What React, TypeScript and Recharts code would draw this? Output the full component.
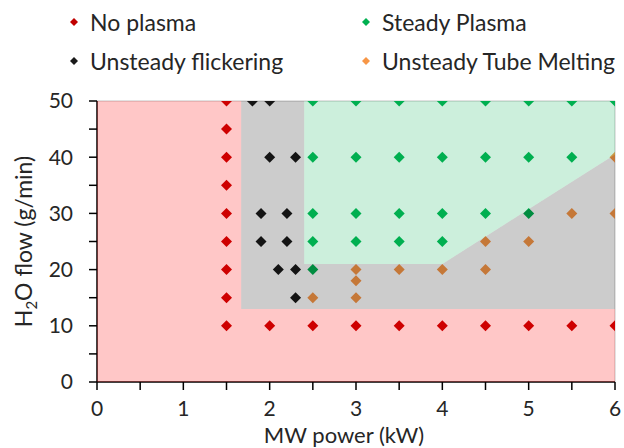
import React from "react";
import { ComposedChart, Scatter, Area, XAxis, YAxis, ReferenceLine, Label } from "recharts";

// measured states
const noPlasma = [
  { x: 1.5, y: 50 }, { x: 1.5, y: 45 }, { x: 1.5, y: 40 }, { x: 1.5, y: 35 }, { x: 1.5, y: 30 },
  { x: 1.5, y: 25 }, { x: 1.5, y: 20 }, { x: 1.5, y: 15 }, { x: 1.5, y: 10 },
  { x: 2, y: 10 }, { x: 2.5, y: 10 }, { x: 3, y: 10 }, { x: 3.5, y: 10 }, { x: 4, y: 10 },
  { x: 4.5, y: 10 }, { x: 5, y: 10 }, { x: 5.5, y: 10 }, { x: 6, y: 10 },
];
const steadyPlasma = [
  { x: 2.5, y: 50 }, { x: 3, y: 50 }, { x: 3.5, y: 50 }, { x: 4, y: 50 }, { x: 4.5, y: 50 },
  { x: 5, y: 50 }, { x: 5.5, y: 50 }, { x: 6, y: 50 },
  { x: 2.5, y: 40 }, { x: 3, y: 40 }, { x: 3.5, y: 40 }, { x: 4, y: 40 }, { x: 4.5, y: 40 },
  { x: 5, y: 40 }, { x: 5.5, y: 40 },
  { x: 2.5, y: 30 }, { x: 3, y: 30 }, { x: 3.5, y: 30 }, { x: 4, y: 30 }, { x: 4.5, y: 30 }, { x: 5, y: 30 },
  { x: 2.5, y: 25 }, { x: 3, y: 25 }, { x: 3.5, y: 25 }, { x: 4, y: 25 },
  { x: 2.5, y: 20 },
];
const flickering = [
  { x: 1.8, y: 50 }, { x: 2.0, y: 50 },
  { x: 2.0, y: 40 }, { x: 2.3, y: 40 },
  { x: 1.9, y: 30 }, { x: 2.2, y: 30 },
  { x: 1.9, y: 25 }, { x: 2.2, y: 25 },
  { x: 2.1, y: 20 }, { x: 2.3, y: 20 },
  { x: 2.3, y: 15 },
];
const tubeMelting = [
  { x: 6, y: 40 }, { x: 5.5, y: 30 }, { x: 6, y: 30 },
  { x: 4.5, y: 25 }, { x: 5, y: 25 },
  { x: 3, y: 20 }, { x: 3.5, y: 20 }, { x: 4, y: 20 }, { x: 4.5, y: 20 },
  { x: 3, y: 18 },
  { x: 2.5, y: 15 }, { x: 3, y: 15 },
];

// shaded regions: [low, high] per x
const pinkZone = [
  { x: 0, r: [0, 50] }, { x: 1.67, r: [0, 50] }, { x: 1.67, r: [0, 13] }, { x: 6, r: [0, 13] },
];
const greyZone = [
  { x: 1.67, r: [13, 50] }, { x: 2.4, r: [13, 50] }, { x: 2.4, r: [13, 21] },
  { x: 4, r: [13, 21] }, { x: 6, r: [13, 40.5] },
];
const greenZone = [
  { x: 2.4, r: [21, 50] }, { x: 4, r: [21, 50] }, { x: 6, r: [40.5, 50] },
];

const xTicks = [0, 0.5, 1, 1.5, 2, 2.5, 3, 3.5, 4, 4.5, 5, 5.5, 6];
const yTicks = [0, 5, 10, 15, 20, 25, 30, 35, 40, 45, 50];

const legendItems = [
  { name: "No plasma", color: "#c00000" },
  { name: "Steady Plasma", color: "#00b050" },
  { name: "Unsteady flickering", color: "#1a1a1a" },
  { name: "Unsteady Tube Melting", color: "#f79646" },
];

const FONT = "Lato, 'Open Sans', sans-serif";
const TEXT = "#262626";

const Diamond = (props: any) => {
  const { cx, cy, fill } = props;
  const r = 5.5;
  return <path d={`M${cx},${cy - r}L${cx + r},${cy}L${cx},${cy + r}L${cx - r},${cy}Z`} fill={fill} />;
};

const Legend = () => (
  <div style={{ position: "absolute", left: 0, top: 0, width: 624, fontFamily: FONT, fontSize: 23, color: TEXT }}>
    {legendItems.map((it, i) => (
      <div
        key={it.name}
        style={{
          position: "absolute",
          left: i % 2 === 0 ? 66 : 358,
          top: i < 2 ? 8 : 47,
          display: "flex",
          alignItems: "center",
          whiteSpace: "nowrap",
        }}
      >
        <svg width={16} height={16} style={{ marginRight: 8 }}>
          <path d="M8,4L12,8L8,12L4,8Z" fill={it.color} />
        </svg>
        <span>{it.name}</span>
      </div>
    ))}
  </div>
);

const YTitle = (props: any) => {
  const { viewBox } = props;
  const cx = 32;
  const cy = viewBox.y + viewBox.height / 2;
  return (
    <text
      x={cx}
      y={cy}
      transform={`rotate(-90, ${cx}, ${cy})`}
      textAnchor="middle"
      fontFamily={FONT}
      fontSize={23}
      fill={TEXT}
    >
      H<tspan fontSize={15} dy={5}>2</tspan>
      <tspan dy={-5}>O flow (g/min)</tspan>
    </text>
  );
};

const XTitle = (props: any) => {
  const { viewBox } = props;
  return (
    <text
      x={viewBox.x + viewBox.width / 2 - 12}
      y={443}
      textAnchor="middle"
      fontFamily={FONT}
      fontSize={22}
      fill={TEXT}
    >
      MW power (kW)
    </text>
  );
};

export default function App() {
  return (
    <div style={{ position: "absolute", left: 0, top: 0, width: 624, height: 448, background: "#fff" }}>
      <ComposedChart
        width={624}
        height={448}
        margin={{ top: 101, right: 9, bottom: 6, left: 0 }}
        style={{ fontFamily: FONT }}
      >
        <XAxis
          type="number"
          dataKey="x"
          domain={[0, 6]}
          ticks={xTicks}
          interval={0}
          height={60}
          allowDataOverflow
          tickFormatter={(v: number) => (Number.isInteger(v) ? String(v) : "")}
          tick={{ fill: TEXT, fontSize: 21 }}
          tickSize={8}
          tickMargin={11}
          axisLine={{ stroke: "#000", strokeWidth: 1.5 }}
          tickLine={{ stroke: "#000", strokeWidth: 1.5 }}
        >
          <Label content={<XTitle />} />
        </XAxis>
        <YAxis
          type="number"
          dataKey="y"
          domain={[0, 50]}
          ticks={yTicks}
          interval={0}
          width={97}
          allowDataOverflow
          tickFormatter={(v: number) => (v % 10 === 0 ? String(v) : "")}
          tick={{ fill: TEXT, fontSize: 21 }}
          tickSize={8}
          tickMargin={16}
          axisLine={{ stroke: "#000", strokeWidth: 1.5 }}
          tickLine={{ stroke: "#000", strokeWidth: 1.5 }}
        >
          <Label content={<YTitle />} />
        </YAxis>
        <ReferenceLine y={50} stroke="#d9d9d9" strokeWidth={1.5} />
        <ReferenceLine x={6} stroke="#d9d9d9" strokeWidth={1.5} />
        <Scatter data={noPlasma} fill="#c00000" shape={<Diamond />} isAnimationActive={false} />
        <Scatter data={steadyPlasma} fill="#00b050" shape={<Diamond />} isAnimationActive={false} />
        <Scatter data={flickering} fill="#1a1a1a" shape={<Diamond />} isAnimationActive={false} />
        <Scatter data={tubeMelting} fill="#f79646" shape={<Diamond />} isAnimationActive={false} />
        <Area
          data={pinkZone}
          dataKey="r"
          type="linear"
          stroke="none"
          fill="#ff0000"
          fillOpacity={0.22}
          dot={false}
          activeDot={false}
          isAnimationActive={false}
          zIndex={650}
        />
        <Area
          data={greyZone}
          dataKey="r"
          type="linear"
          stroke="none"
          fill="#000000"
          fillOpacity={0.2}
          dot={false}
          activeDot={false}
          isAnimationActive={false}
          zIndex={650}
        />
        <Area
          data={greenZone}
          dataKey="r"
          type="linear"
          stroke="none"
          fill="#00b050"
          fillOpacity={0.2}
          dot={false}
          activeDot={false}
          isAnimationActive={false}
          zIndex={650}
        />
      </ComposedChart>
      <Legend />
    </div>
  );
}
